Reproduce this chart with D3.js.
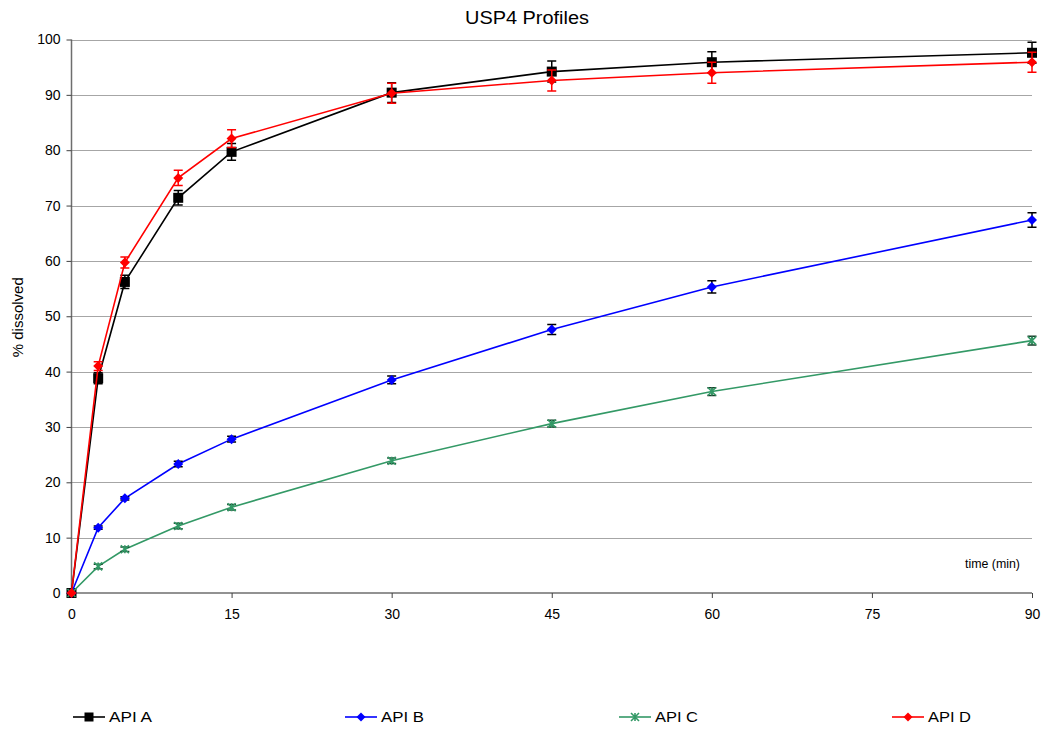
<!DOCTYPE html>
<html><head><meta charset="utf-8">
<script src="https://cdn.jsdelivr.net/npm/d3@7/dist/d3.min.js"></script>
<style>body{margin:0;background:#fff}svg{display:block}text{font-family:"Liberation Sans",Arial,sans-serif}</style>
</head><body><svg id="c" width="1045" height="730"></svg>
<script>
const times = [0, 2.5, 5, 10, 15, 30, 45, 60, 90];
const apiA = [0, 38.8, 56.2, 71.4, 79.7, 90.4, 94.2, 95.9, 97.6];
const apiAErr = [0, 1.0, 1.2, 1.3, 1.5, 1.8, 1.9, 1.9, 1.9];
const apiB = [0, 11.8, 17.1, 23.3, 27.8, 38.5, 47.6, 55.3, 67.4];
const apiBErr = [0, 0.3, 0.3, 0.5, 0.5, 0.7, 0.9, 1.1, 1.3];
const apiC = [0, 4.8, 7.9, 12.1, 15.5, 23.9, 30.6, 36.4, 45.6];
const apiCErr = [0, 0.4, 0.4, 0.5, 0.5, 0.5, 0.6, 0.7, 0.8];
const apiD = [0, 41.0, 59.7, 75.0, 82.1, 90.3, 92.6, 94.0, 95.9];
const apiDErr = [0, 0.8, 1.0, 1.4, 1.6, 1.8, 1.9, 1.9, 1.8];
const xTicks = [0, 15, 30, 45, 60, 75, 90];
const yTicks = [0, 10, 20, 30, 40, 50, 60, 70, 80, 90, 100];
const seriesNames = ["API A", "API B", "API C", "API D"];

const series = [
  {name: seriesNames[0], v: apiA, e: apiAErr, color: "#000000", err: "#000000", marker: "square"},
  {name: seriesNames[1], v: apiB, e: apiBErr, color: "#0000ff", err: "#000000", marker: "diamond"},
  {name: seriesNames[2], v: apiC, e: apiCErr, color: "#339966", err: "#1a3d2a", marker: "star"},
  {name: seriesNames[3], v: apiD, e: apiDErr, color: "#ff0000", err: "#ff0000", marker: "diamond"}
];

const svg = d3.select("#c");
const L = 71.5, R = 1032, T = 39.5, B = 593;
const x = d3.scaleLinear().domain([0, 90]).range([L, R]);
const y = d3.scaleLinear().domain([0, 100]).range([B, T]);

// gridlines
svg.append("g").selectAll("line").data(yTicks.filter(d => d > 0)).join("line")
  .attr("x1", L).attr("x2", R).attr("y1", d => Math.round(y(d)) + 0.5).attr("y2", d => Math.round(y(d)) + 0.5)
  .attr("stroke", "#a6a6a6").attr("stroke-width", 1);

// axes
const yAxis = d3.axisLeft(y).tickValues(yTicks).tickSize(5).tickPadding(6).tickFormat(d3.format("d"));
const gy = svg.append("g").attr("transform", `translate(${L},0)`).call(yAxis);
const xAxis = d3.axisBottom(x).tickValues(xTicks).tickSize(5).tickPadding(11).tickFormat(d3.format("d"));
const gx = svg.append("g").attr("transform", `translate(0,${B})`).call(xAxis);
[gx, gy].forEach(g => {
  g.select(".domain").attr("stroke", "#6e6e6e").attr("stroke-width", 1.5);
  g.selectAll(".tick line").attr("stroke", "#404040");
  g.selectAll(".tick text").attr("font-size", 14).attr("fill", "#000").attr("font-family", "Liberation Sans, Arial, sans-serif");
});
gy.select(".domain").attr("d", `M0,${B}V${T}`);
gx.select(".domain").attr("d", `M${L},0H${R}`);

// title & labels
svg.append("text").attr("x", 527).attr("y", 24).attr("text-anchor", "middle").attr("font-size", 18)
  .attr("textLength", 124).attr("lengthAdjust", "spacingAndGlyphs").text("USP4 Profiles");
svg.append("text").attr("transform", `translate(23,${(T + B) / 2 + 1}) rotate(-90)`).attr("text-anchor", "middle").attr("font-size", 15).text("% dissolved");
svg.append("text").attr("x", 1020).attr("y", 568).attr("text-anchor", "end").attr("font-size", 12)
  .attr("textLength", 55).attr("lengthAdjust", "spacingAndGlyphs").text("time (min)");

function drawMarker(g, type, color, cx, cy, s) {
  if (type === "square") {
    g.append("rect").attr("x", cx - s / 2).attr("y", cy - s / 2).attr("width", s).attr("height", s).attr("fill", color);
  } else if (type === "diamond") {
    g.append("path").attr("d", `M${cx},${cy - s / 2}L${cx + s / 2},${cy}L${cx},${cy + s / 2}L${cx - s / 2},${cy}Z`).attr("fill", color);
  } else {
    const r = s / 2;
    g.append("path").attr("d", `M${cx - r},${cy - r}L${cx + r},${cy + r}M${cx - r},${cy + r}L${cx + r},${cy - r}M${cx},${cy - r}L${cx},${cy + r}`)
      .attr("stroke", color).attr("stroke-width", 1.6).attr("fill", "none");
  }
}

const line = d3.line().x(d => x(d[0])).y(d => y(d[1]));
series.forEach(s => {
  const g = svg.append("g");
  const pts = times.map((t, i) => [t, s.v[i], s.e[i]]);
  g.append("path").datum(pts).attr("d", line).attr("fill", "none").attr("stroke", s.color).attr("stroke-width", 1.6);
  pts.forEach(p => {
    if (p[2] > 0) {
      const cx = x(p[0]), y1 = y(p[1] + p[2]), y2 = y(p[1] - p[2]);
      g.append("path").attr("d", `M${cx},${y1}V${y2}M${cx - 4.5},${y1}H${cx + 4.5}M${cx - 4.5},${y2}H${cx + 4.5}`)
        .attr("stroke", s.err).attr("stroke-width", 1.5).attr("fill", "none");
    }
  });
  pts.forEach(p => drawMarker(g, s.marker, s.color, x(p[0]), y(p[1]), s.marker === "square" ? 10 : (s.marker === "star" ? 8 : 10)));
});

// legend
const legendX = [73, 345, 619, 892];
series.forEach((s, i) => {
  const g = svg.append("g");
  const lx = legendX[i], ly = 717;
  g.append("line").attr("x1", lx).attr("x2", lx + 32).attr("y1", ly).attr("y2", ly).attr("stroke", s.color).attr("stroke-width", 1.6);
  drawMarker(g, s.marker, s.color, lx + 16, ly, s.marker === "star" ? 8 : 9);
  g.append("text").attr("x", lx + 36).attr("y", ly + 5).attr("font-size", 14)
    .attr("textLength", 43).attr("lengthAdjust", "spacingAndGlyphs").text(s.name);
});
</script></body></html>
